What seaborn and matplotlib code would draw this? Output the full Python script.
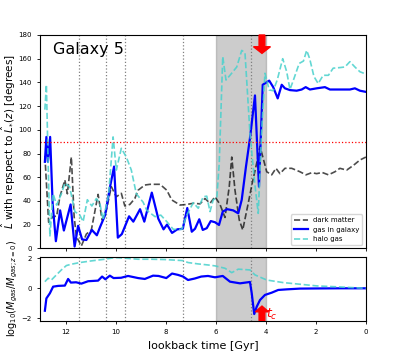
import numpy as np
import matplotlib
matplotlib.use('Agg')
import matplotlib.pyplot as plt
import seaborn as sns

# --- angle of L w.r.t. L*(z=0) [degrees] ---
t_gas = [12.85, 12.79, 12.73, 12.64, 12.54, 12.41, 12.24, 12.09, 11.82, 11.66,
         11.52, 11.36, 11.19, 10.97, 10.77, 10.64, 10.44, 10.24, 10.08, 9.93,
         9.77, 9.48, 9.31, 9.04, 8.87, 8.57, 8.31, 8.10, 7.96, 7.76,
         7.55, 7.33, 7.15, 6.97, 6.84, 6.67, 6.53, 6.37, 6.21, 6.04,
         5.88, 5.73, 5.55, 5.31, 5.11, 4.97, 4.80, 4.64, 4.44, 4.28,
         4.13, 3.87, 3.71, 3.53, 3.37, 3.24, 3.04, 2.77, 2.57, 2.41,
         2.24, 1.97, 1.64, 1.44, 1.04, 0.64, 0.44, 0.24, 0.00]
ang_gas = [73, 94, 73, 94, 38, 6, 32, 15, 37, 1.5,
           19, 7.5, 7, 15.5, 11, 18, 28, 52, 69, 9,
           12, 27, 22.5, 33, 22.5, 47, 25, 16, 20, 13,
           16, 16.5, 34, 14, 16.5, 24.5, 15.5, 17, 23, 22,
           19.7, 31, 33, 32, 29.5, 41, 69, 93, 129, 52,
           138, 141.5, 136, 126.5, 138, 135, 133.5, 133, 134, 136,
           134, 135, 136, 134, 134, 134, 135, 133, 132]

t_dm = [12.85, 12.70, 12.52, 12.38, 12.25, 12.05, 11.95, 11.79, 11.68, 11.59,
        11.39, 11.19, 10.99, 10.72, 10.56, 10.39, 10.19, 9.99, 9.79, 9.65,
        9.45, 9.25, 9.12, 8.85, 8.64, 8.24, 7.97, 7.77, 7.44, 7.17,
        6.91, 6.64, 6.44, 6.24, 6.04, 5.84, 5.64, 5.47, 5.37, 5.24,
        5.07, 4.93, 4.71, 4.55, 4.37, 4.24, 4.10, 3.97, 3.77, 3.60,
        3.44, 3.24, 2.97, 2.64, 2.40, 2.17, 1.97, 1.75, 1.50, 1.24,
        1.04, 0.77, 0.50, 0.24, 0.00]
ang_dm = [78, 22, 27, 27, 43.5, 57.6, 46, 77, 27, 10,
          2, 12, 15.5, 45.5, 24, 32, 52, 43.5, 46.4, 35.7,
          37, 42, 49, 53.4, 54, 54, 49, 40.8, 36.5, 37,
          38, 37.5, 42, 38, 43.5, 37, 26, 52, 77, 49,
          24, 15.5, 38, 55, 72, 86, 75, 64.6, 62, 67.5,
          63, 67.5, 67.5, 64.6, 62, 63.8, 63, 64, 62, 64.6,
          67.5, 66, 70, 74.5, 77]

t_halo = [12.85, 12.79, 12.72, 12.65, 12.52, 12.38, 12.19, 12.05, 11.86, 11.65,
          11.45, 11.32, 11.15, 10.97, 10.79, 10.65, 10.52, 10.30, 10.12, 9.99,
          9.79, 9.59, 9.39, 9.19, 8.92, 8.77, 8.44, 8.21, 7.97, 7.71,
          7.37, 7.17, 6.91, 6.71, 6.51, 6.37, 6.24, 6.11, 5.97, 5.87,
          5.73, 5.60, 5.44, 5.17, 4.97, 4.84, 4.64, 4.45, 4.31, 4.17,
          4.04, 3.87, 3.71, 3.55, 3.33, 3.17, 3.04, 2.90, 2.67, 2.50,
          2.37, 2.25, 2.08, 1.91, 1.71, 1.50, 1.31, 1.04, 0.84, 0.64,
          0.44, 0.24, 0.00]
ang_halo = [117, 138, 73, 10, 46, 36.5, 46, 55, 52, 31,
            28, 22.5, 41, 35.7, 42, 38, 24, 45, 94, 66,
            84.4, 77, 66, 46, 39, 32, 26.7, 28, 22.5, 16,
            16, 28, 38.5, 33.8, 43.5, 44, 31, 41, 42, 72,
            161.7, 142, 146, 153, 167, 165, 97, 55, 29.5, 100,
            147.7, 133.6, 133, 142, 160, 149, 134, 142, 156, 158,
            167, 160, 145, 139, 146, 146, 152, 152.5, 153, 157.5,
            153, 149, 147]

# --- log10 gas mass relative to z=0 ---
t_mgas = [12.85, 12.79, 12.65, 12.52, 12.32, 12.05, 11.92, 11.81, 11.60, 11.39,
          11.12, 10.72, 10.56, 10.43, 10.25, 10.10, 9.80, 9.52, 9.12, 8.85,
          8.52, 8.30, 7.99, 7.76, 7.52, 7.32, 7.12, 6.85, 6.59, 6.32,
          6.04, 5.73, 5.44, 5.04, 4.64, 4.57, 4.47, 4.37, 4.24, 4.04,
          3.77, 3.51, 3.17, 2.64, 1.97, 1.00, 0.00]
lm_gas = [-1.49, -0.67, -0.33, 0.11, 0.16, 0.18, 0.62, 0.38, 0.40, 0.31,
          0.47, 0.51, 0.78, 0.60, 0.84, 0.68, 0.70, 0.82, 0.68, 0.62,
          0.84, 0.82, 0.68, 0.98, 0.89, 0.78, 0.55, 0.65, 0.78, 0.82,
          0.73, 0.82, 0.44, 0.33, 0.42, -0.33, -1.71, -1.22, -0.78, -0.44,
          -0.29, -0.11, -0.07, -0.02, -0.01, 0.0, 0.0]

t_mhalo = [12.85, 12.72, 12.59, 12.39, 12.19, 11.99, 11.79, 11.45, 10.99, 10.45,
           10.05, 9.65, 9.12, 8.60, 8.05, 7.32, 7.12, 6.72, 6.32, 6.04,
           5.64, 5.37, 5.11, 4.64, 4.44, 3.97, 3.31, 2.64, 1.97, 1.04, 0.00]
lm_halo = [0.44, 0.67, 0.55, 0.89, 1.22, 1.51, 1.60, 1.71, 1.82, 1.93,
           2.04, 2.00, 1.93, 1.93, 1.91, 1.84, 1.71, 1.62, 1.55, 1.49,
           1.33, 1.04, 1.27, 1.22, 0.89, 0.55, 0.38, 0.27, 0.16, 0.09, 0.0]

# mergers / events marked with dotted lines
t_events = [11.49, 10.41, 9.65, 7.31, 4.6]
t_window = (4.0, 6.0)
t_c = 4.16

c_dm = 'k'
c_gas = 'b'
c_halo = 'mediumturquoise'

fig = plt.figure(figsize=(4.07, 3.56), dpi=100)
ax1 = fig.add_axes([0.098, 0.3025, 0.801, 0.5992])
ax2 = fig.add_axes([0.098, 0.0992, 0.801, 0.1798], sharex=ax1)

# top panel: angles
sns.lineplot(x=t_dm, y=ang_dm, ax=ax1, sort=False, estimator=None, color=c_dm,
             alpha=0.7, linestyle='--', lw=1.2, label='dark matter')
sns.lineplot(x=t_gas, y=ang_gas, ax=ax1, sort=False, estimator=None, color=c_gas,
             lw=1.6, label='gas in galaxy')
sns.lineplot(x=t_halo, y=ang_halo, ax=ax1, sort=False, estimator=None, color=c_halo,
             alpha=0.85, linestyle='--', lw=1.2, label='halo gas')
ax1.axhline(90, color='red', ls=':', lw=0.9)

# bottom panel: gas mass
sns.lineplot(x=t_mgas, y=lm_gas, ax=ax2, sort=False, estimator=None, color=c_gas, lw=1.6)
sns.lineplot(x=t_mhalo, y=lm_halo, ax=ax2, sort=False, estimator=None, color=c_halo,
             alpha=0.85, linestyle='--', lw=1.2)

for ax in (ax1, ax2):
    ax.axvspan(*t_window, color='gray', alpha=0.4, zorder=0)
    for t in t_events:
        ax.axvline(t, color='gray', ls=':', lw=0.9, zorder=1)
    ax.tick_params(labelsize=5, length=2.5, width=0.6)
    for sp in ax.spines.values():
        sp.set_linewidth(0.8)

# arrows marking t_c
ax1.arrow(t_c, 180, 0, -15.5, width=0.23, head_width=0.68, head_length=5.6,
          length_includes_head=True, color='red', clip_on=False, zorder=5)
ax2.arrow(t_c, -2.15, 0, 0.97, width=0.23, head_width=0.53, head_length=0.38,
          length_includes_head=True, color='red', zorder=5)
ax2.text(3.98, -1.72, '$t_c$', color='red', fontsize=9, ha='left', va='center')

ax1.text(0.04, 0.93, 'Galaxy 5', transform=ax1.transAxes, fontsize=11.5,
         ha='left', va='center')

ax1.set_xlim(13.05, 0)
ax1.set_ylim(0, 180)
ax1.set_yticks(np.arange(0, 181, 20))
ax2.set_ylim(-2.15, 2.1)
ax2.set_yticks([-2, 0, 2])
ax2.set_xticks(np.arange(0, 13, 2))
plt.setp(ax1.get_xticklabels(), visible=False)

ax1.set_ylabel(r'$\hat{L}$ with repspect to $\hat{L}_{*}(z)$ [degrees]', fontsize=7.5)
ax2.set_ylabel(r'log$_{10}$($M_{gas}/M_{gas;z=0}$)', fontsize=7)
ax2.set_xlabel('lookback time [Gyr]', fontsize=8)
ax1.yaxis.set_label_coords(-0.066, 0.5)
ax2.yaxis.set_label_coords(-0.062, 0.5)

ax1.legend(loc='lower right', fontsize=5)

fig.savefig('out.png', dpi=100)
